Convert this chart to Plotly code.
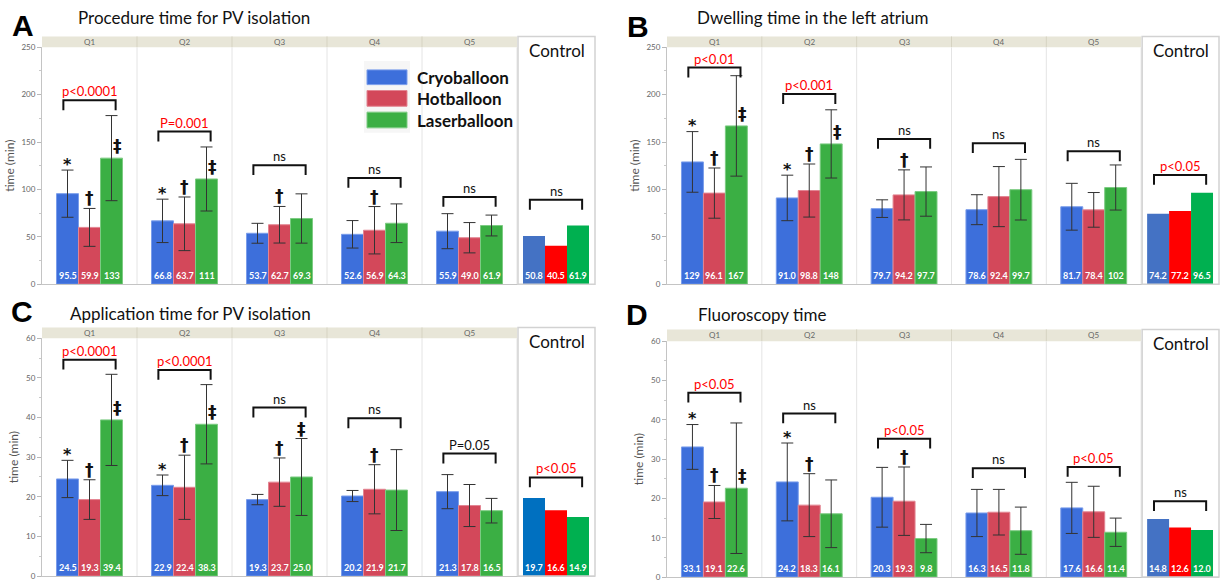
import plotly.graph_objects as go

W, H = 1221, 587

quarters = ["Q1", "Q2", "Q3", "Q4", "Q5"]
series = ["Cryoballoon", "Hotballoon", "Laserballoon"]

# ---------------- Panel A: Procedure time for PV isolation ----------------
A_cryo = [95.5, 66.8, 53.7, 52.6, 55.9]
A_hot = [59.9, 63.7, 62.7, 56.9, 49.0]
A_laser = [133, 111, 69.3, 64.3, 61.9]
A_cryo_sd = [24.9, 22.9, 10.5, 14.5, 18.5]
A_hot_sd = [20.0, 28.3, 19.3, 25.0, 16.0]
A_laser_sd = [44.9, 33.8, 26.0, 20.4, 11.0]
A_control = [50.8, 40.5, 61.9]
A_bracket_top = [194, 161, 125.5, 112, 92, 89]
A_bracket_label = ["p<0.0001", "P=0.001", "ns", "ns", "ns", "ns"]
A_bracket_sig = [True, True, False, False, False, False]
A_marks = [(0, 0, "*", "top"), (0, 1, "†", "top"), (0, 2, "‡", "side"),
           (1, 0, "*", "top"), (1, 1, "†", "top"), (1, 2, "‡", "side"),
           (2, 1, "†", "top"), (3, 1, "†", "top")]

# ---------------- Panel B: Dwelling time in the left atrium ----------------
B_cryo = [129, 91.0, 79.7, 78.6, 81.7]
B_hot = [96.1, 98.8, 94.2, 92.4, 78.4]
B_laser = [167, 148, 97.7, 99.7, 102]
B_cryo_sd = [32.0, 24.0, 9.3, 15.8, 24.7]
B_hot_sd = [26.5, 28.0, 26.4, 31.7, 18.3]
B_laser_sd = [53.0, 36.0, 26.0, 32.0, 23.8]
B_control = [74.2, 77.2, 96.5]
B_bracket_top = [228.6, 200.6, 153.3, 148.8, 140.2, 115.3]
B_bracket_label = ["p<0.01", "p<0.001", "ns", "ns", "ns", "p<0.05"]
B_bracket_sig = [True, True, False, False, False, True]
B_marks = [(0, 0, "*", "top"), (0, 1, "†", "top"), (0, 2, "‡", "side"),
           (1, 0, "*", "top"), (1, 1, "†", "top"), (1, 2, "‡", "side"),
           (2, 1, "†", "top")]

# ---------------- Panel C: Application time for PV isolation ----------------
C_cryo = [24.5, 22.9, 19.3, 20.2, 21.3]
C_hot = [19.3, 22.4, 23.7, 21.9, 17.8]
C_laser = [39.4, 38.3, 25.0, 21.7, 16.5]
C_cryo_sd = [4.7, 2.6, 1.3, 1.4, 4.3]
C_hot_sd = [5.0, 8.1, 6.1, 6.2, 5.3]
C_laser_sd = [11.5, 10.0, 9.7, 10.2, 3.1]
C_control = [19.7, 16.6, 14.9]
C_bracket_top = [54.6, 52.0, 42.5, 39.8, 30.9, 24.9]
C_bracket_label = ["p<0.0001", "p<0.0001", "ns", "ns", "P=0.05", "p<0.05"]
C_bracket_sig = [True, True, False, False, False, True]
C_marks = [(0, 0, "*", "top"), (0, 1, "†", "top"), (0, 2, "‡", "side"),
           (1, 0, "*", "top"), (1, 1, "†", "top"), (1, 2, "‡", "side"),
           (2, 1, "†", "top"), (2, 2, "‡", "top"), (3, 1, "†", "top")]

# ---------------- Panel D: Fluoroscopy time ----------------
D_cryo = [33.1, 24.2, 20.3, 16.3, 17.6]
D_hot = [19.1, 18.3, 19.3, 16.5, 16.6]
D_laser = [22.6, 16.1, 9.8, 11.8, 11.4]
D_cryo_sd = [5.7, 9.9, 7.6, 6.0, 6.5]
D_hot_sd = [4.2, 8.0, 8.7, 5.8, 6.5]
D_laser_sd = [16.6, 8.6, 3.6, 6.0, 3.6]
D_control = [14.8, 12.6, 12.0]
D_bracket_top = [46.9, 41.6, 35.2, 27.7, 28.0, 19.3]
D_bracket_label = ["p<0.05", "ns", "p<0.05", "ns", "p<0.05", "ns"]
D_bracket_sig = [True, False, True, False, True, False]
D_marks = [(0, 0, "*", "top"), (0, 1, "†", "top"), (0, 2, "‡", "side"),
           (1, 0, "*", "top"), (1, 1, "†", "top"), (2, 1, "†", "top")]

# ---------------- styling / layout ----------------
Q_COLORS = ["#3D6FDB", "#D3485A", "#3BAF44"]
Q_EDGES = ["#7A9DEB", "#E38592", "#7CCB82"]
FONT = "Lato"

PANELS = [
    dict(letter="A", title="Procedure time for PV isolation", n="",
         vals=[A_cryo, A_hot, A_laser], sds=[A_cryo_sd, A_hot_sd, A_laser_sd],
         ctrl=A_control, btop=A_bracket_top, blab=A_bracket_label, bsig=A_bracket_sig,
         marks=A_marks, ymax=250, dtick=50,
         xpx=(42, 595), ypx=(43, 284), hdr=32, title_px=(76, 13), letter_px=(23, 21),
         ctrl_colors=["#4472C4", "#FF0000", "#00B050"], legend=True),
    dict(letter="B", title="Dwelling time in the left atrium", n="2",
         vals=[B_cryo, B_hot, B_laser], sds=[B_cryo_sd, B_hot_sd, B_laser_sd],
         ctrl=B_control, btop=B_bracket_top, blab=B_bracket_label, bsig=B_bracket_sig,
         marks=B_marks, ymax=250, dtick=50,
         xpx=(667, 1219), ypx=(43, 284), hdr=32, title_px=(695, 13), letter_px=(638, 22),
         ctrl_colors=["#4472C4", "#FF0000", "#00B050"], legend=False),
    dict(letter="C", title="Application time for PV isolation", n="3",
         vals=[C_cryo, C_hot, C_laser], sds=[C_cryo_sd, C_hot_sd, C_laser_sd],
         ctrl=C_control, btop=C_bracket_top, blab=C_bracket_label, bsig=C_bracket_sig,
         marks=C_marks, ymax=60, dtick=10,
         xpx=(42, 595), ypx=(339, 581), hdr=328, title_px=(68, 314), letter_px=(22, 312),
         ctrl_colors=["#0070C0", "#FF0000", "#00B050"], legend=False),
    dict(letter="D", title="Fluoroscopy time", n="4",
         vals=[D_cryo, D_hot, D_laser], sds=[D_cryo_sd, D_hot_sd, D_laser_sd],
         ctrl=D_control, btop=D_bracket_top, blab=D_bracket_label, bsig=D_bracket_sig,
         marks=D_marks, ymax=60, dtick=10,
         xpx=(667, 1219), ypx=(342, 582), hdr=330, title_px=(696, 315), letter_px=(637, 315),
         ctrl_colors=["#4472C4", "#FF0000", "#00B050"], legend=False),
]

FACET_PX = 95.0
CTRL_PX = 78.0
XR = 5 + CTRL_PX / FACET_PX
BW = 22.0 / FACET_PX
OFFS = [-BW, 0.0, BW]
CTRL_C = 5 + (CTRL_PX / 2) / FACET_PX
BR_HALF = 0.275


def px2x(p):
    return p / W


def py2y(p):
    return 1 - p / H


def fmt(v):
    return f"{v:.0f}" if v >= 100 else f"{v:.1f}"


fig = go.Figure()
shapes = []
annotations = []
layout_axes = {}

for P in PANELS:
    n = P["n"]
    xa, ya = "x" + n, "y" + n
    x0p, x1p = P["xpx"]
    ytop, ybot = P["ypx"]
    fw = (x1p - x0p) / XR
    ymax = P["ymax"]
    ppu = (ybot - ytop) / ymax
    tick = 10.0 / ppu

    layout_axes["xaxis" + n] = dict(
        domain=[px2x(x0p), px2x(x1p)], range=[0, XR], anchor=ya,
        showticklabels=False, showgrid=False, zeroline=False, ticks="",
        showline=True, linecolor="#c4c4c4", linewidth=1, fixedrange=True)
    layout_axes["yaxis" + n] = dict(
        domain=[py2y(ybot), py2y(ytop)], range=[0, ymax], anchor=xa,
        showgrid=False, zeroline=False, showline=True, linecolor="#c4c4c4",
        ticks="outside", ticklen=4, tickcolor="#b8b8b8", dtick=P["dtick"],
        tickfont=dict(family=FONT, size=8, color="#666"),
        minor=dict(ticks="outside", ticklen=2, dtick=P["dtick"] / 2, tickcolor="#c8c8c8"),
        title=dict(text="time (min)", font=dict(family=FONT, size=12, color="#555"), standoff=4),
        fixedrange=True)

    # facet separators
    for i in range(1, 6):
        shapes.append(dict(type="line", xref=xa, yref=ya, x0=i, x1=i, y0=0, y1=ymax,
                           line=dict(color="#e4e4e4", width=1), layer="below"))
    # header strip
    hx1 = x0p + 5 * fw
    shapes.append(dict(type="rect", xref="paper", yref="paper",
                       x0=px2x(x0p), x1=px2x(hx1), y0=py2y(ytop), y1=py2y(P["hdr"]),
                       fillcolor="#E8E6D8", line=dict(width=0), layer="below"))
    for i in range(1, 5):
        xs = px2x(x0p + i * fw)
        shapes.append(dict(type="line", xref="paper", yref="paper", x0=xs, x1=xs,
                           y0=py2y(ytop), y1=py2y(P["hdr"]),
                           line=dict(color="#d6d3c2", width=1), layer="below"))
    for i, q in enumerate(quarters):
        annotations.append(dict(xref=xa, yref="paper", x=i + 0.5,
                                y=py2y((ytop + P["hdr"]) / 2), text=q, showarrow=False,
                                xanchor="center", yanchor="middle",
                                font=dict(family=FONT, size=8, color="#666")))
    # control box
    cx0 = x0p + 5 * fw + 1
    shapes.append(dict(type="rect", xref="paper", yref="paper",
                       x0=px2x(cx0), x1=px2x(x1p), y0=py2y(ybot), y1=py2y(P["hdr"]),
                       fillcolor="rgba(0,0,0,0)", line=dict(color="#d2d2d2", width=1.5)))
    annotations.append(dict(xref="paper", yref="paper", x=px2x((cx0 + x1p) / 2),
                            y=py2y(P["hdr"] + 14), text="Control", showarrow=False,
                            xanchor="center", yanchor="middle",
                            font=dict(family=FONT, size=17, color="#111")))

    # bars with SD
    for s in range(3):
        xs = [i + 0.5 + OFFS[s] for i in range(5)]
        fig.add_trace(go.Bar(
            x=xs, y=P["vals"][s], width=BW, xaxis=xa, yaxis=ya, name=series[s],
            marker=dict(color=Q_COLORS[s], line=dict(color=Q_EDGES[s], width=1)),
            error_y=dict(type="data", array=P["sds"][s], symmetric=True,
                         color="#333", thickness=1, width=6),
            showlegend=False, hoverinfo="skip"))
        fig.add_trace(go.Bar(
            x=[CTRL_C + OFFS[s]], y=[P["ctrl"][s]], width=BW, xaxis=xa, yaxis=ya,
            name=series[s] + " control",
            marker=dict(color=P["ctrl_colors"][s], line=dict(width=0)),
            showlegend=False, hoverinfo="skip"))
        # value labels
        for i, v in enumerate(P["vals"][s]):
            annotations.append(dict(xref=xa, yref=ya, x=xs[i], y=0, yanchor="bottom",
                                    yshift=1, text="<b>" + fmt(v) + "</b>", showarrow=False,
                                    font=dict(family=FONT, size=9, color="white")))
        annotations.append(dict(xref=xa, yref=ya, x=CTRL_C + OFFS[s], y=0, yanchor="bottom",
                                yshift=1, text="<b>" + fmt(P["ctrl"][s]) + "</b>",
                                showarrow=False, font=dict(family=FONT, size=9, color="white")))

    # brackets
    centers = [i + 0.5 for i in range(5)] + [CTRL_C]
    for c, yb, lab, sig in zip(centers, P["btop"], P["blab"], P["bsig"]):
        bx0, bx1 = c - BR_HALF, c + BR_HALF
        shapes.append(dict(type="path", xref=xa, yref=ya,
                           path=f"M {bx0},{yb - tick} L {bx0},{yb} L {bx1},{yb} L {bx1},{yb - tick}",
                           line=dict(color="#111", width=2)))
        annotations.append(dict(xref=xa, yref=ya, x=c, y=yb, yanchor="bottom", yshift=-1,
                                text=lab, showarrow=False,
                                font=dict(family=FONT, size=13,
                                          color="#FF0000" if sig else "#111")))

    # significance markers
    for qi, si, sym, place in P["marks"]:
        xc = qi + 0.5 + OFFS[si]
        mean = P["vals"][si][qi]
        sd = P["sds"][si][qi]
        if place == "top":
            annotations.append(dict(xref=xa, yref=ya, x=xc, y=mean + sd, yanchor="middle",
                                    yshift=6 if sym == "*" else 10,
                                    text="<b>" + sym + "</b>", showarrow=False,
                                    font=dict(family="DejaVu Sans", size=16 if sym == "*" else 17,
                                              color="#111")))
        else:
            annotations.append(dict(xref=xa, yref=ya, x=xc, y=mean, yanchor="middle",
                                    yshift=12, xshift=6, text="<b>" + sym + "</b>",
                                    showarrow=False,
                                    font=dict(family="DejaVu Sans", size=17, color="#111")))

    # panel letter and title
    annotations.append(dict(xref="paper", yref="paper", x=px2x(P["letter_px"][0]),
                            y=py2y(P["letter_px"][1]), text="<b>" + P["letter"] + "</b>",
                            showarrow=False, xanchor="center", yanchor="middle",
                            font=dict(family="Liberation Sans", size=30, color="#000")))
    annotations.append(dict(xref="paper", yref="paper", x=px2x(P["title_px"][0]),
                            y=py2y(P["title_px"][1]), text=P["title"], showarrow=False,
                            xanchor="left", yanchor="middle",
                            font=dict(family=FONT, size=17, color="#111")))

    # legend (panel A)
    if P["legend"]:
        shapes.append(dict(type="rect", xref="paper", yref="paper", x0=px2x(364), x1=px2x(410),
                           y0=py2y(130), y1=py2y(57), fillcolor="#F6F6F6",
                           line=dict(width=0), layer="below"))
        rows = [(66, 81), (87, 103), (109, 125)]
        for s, (r0, r1) in enumerate(rows):
            shapes.append(dict(type="rect", xref="paper", yref="paper",
                               x0=px2x(367), x1=px2x(407), y0=py2y(r1), y1=py2y(r0),
                               fillcolor=Q_COLORS[s], line=dict(color=Q_EDGES[s], width=1)))
            annotations.append(dict(xref="paper", yref="paper", x=px2x(415),
                                    y=py2y((r0 + r1) / 2), text="<b>" + series[s] + "</b>",
                                    showarrow=False, xanchor="left", yanchor="middle",
                                    font=dict(family=FONT, size=17, color="#111")))

fig.update_layout(
    width=W, height=H, margin=dict(l=0, r=0, t=0, b=0),
    paper_bgcolor="white", plot_bgcolor="white", barmode="overlay",
    showlegend=False, shapes=shapes, annotations=annotations, **layout_axes)

fig.write_html("out.html", config=dict(displayModeBar=False),
               post_script="document.body.style.margin='0';document.body.style.padding='0';")
